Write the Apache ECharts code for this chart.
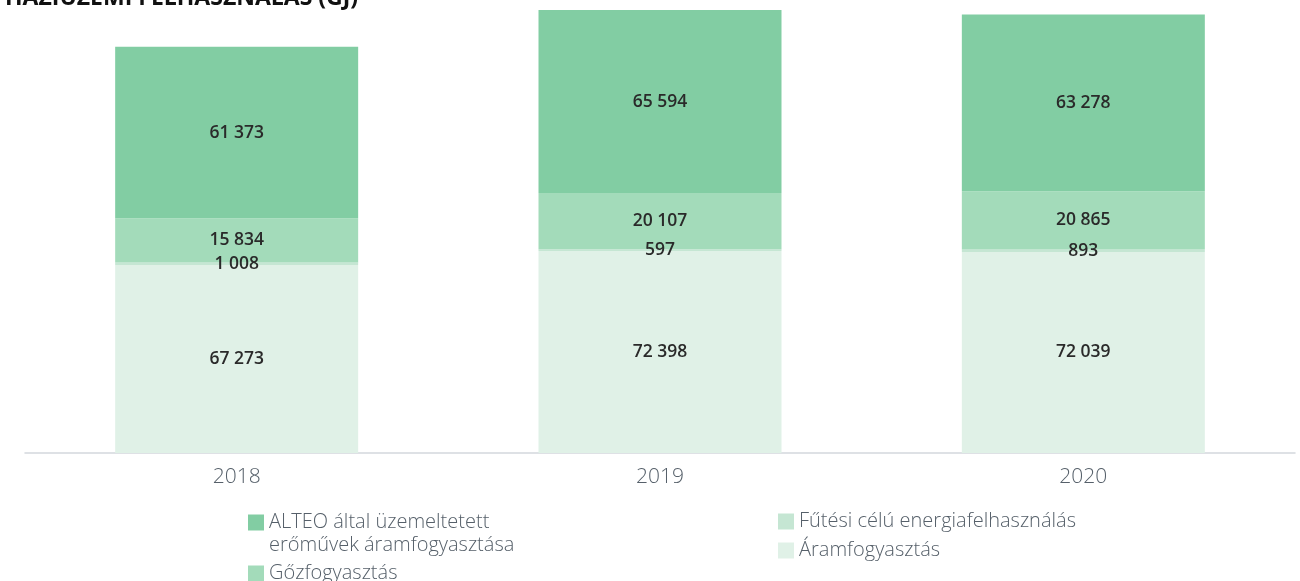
<!DOCTYPE html>
<html>
<head>
<meta charset="utf-8">
<script src="https://cdn.jsdelivr.net/npm/echarts@6/dist/echarts.min.js"></script>
<style>
  html, body { margin: 0; padding: 0; background: #fff; }
  #chart { width: 1300px; height: 581px; }
</style>
</head>
<body>
<div id="chart"></div>
<script>
var years = ["2018", "2019", "2020"];
var aramfogyasztas = [67273, 72398, 72039];
var futesi = [1008, 597, 893];
var gozfogyasztas = [15834, 20107, 20865];
var alteo = [61373, 65594, 63278];

var nameAram = "Áramfogyasztás";
var nameFutesi = "Fűtési célú energiafelhasználás";
var nameGoz = "Gőzfogyasztás";
var nameAlteo = "ALTEO által üzemeltetett erőművek áramfogyasztása";

var fontFamily = "'Open Sans', Lato, sans-serif";

function fmt(p) {
  return String(p.value).replace(/\B(?=(\d{3})+(?!\d))/g, " ");
}

var labelStyle = {
  show: true,
  position: "inside",
  formatter: fmt,
  color: "#2a2a2a",
  fontSize: 17.5,
  fontWeight: 600,
  fontFamily: fontFamily
};

function makeSeries(name, data, color) {
  return {
    name: name,
    type: "bar",
    stack: "total",
    barWidth: 243,
    data: data,
    itemStyle: { color: color },
    label: labelStyle,
    emphasis: { disabled: true }
  };
}

var legendText = {
  color: "#56606a",
  fontSize: 20,
  fontFamily: fontFamily,
  fontWeight: 300,
  lineHeight: 23
};

var myChart = echarts.init(document.getElementById("chart"));
myChart.setOption({
  animation: false,
  title: {
    text: "HÁZIÜZEMI FELHASZNÁLÁS (GJ)",
    left: 0,
    top: -18,
    textStyle: { fontSize: 23, fontWeight: "bold", color: "#111", fontFamily: fontFamily }
  },
  grid: { left: 25, right: 5, top: 10, bottom: 128 },
  xAxis: {
    type: "category",
    data: years,
    axisTick: { show: false },
    axisLine: { lineStyle: { color: "#d3d7dd", width: 1.5 } },
    axisLabel: { color: "#56606a", fontSize: 21, fontFamily: fontFamily, fontWeight: 300, margin: 14 }
  },
  yAxis: {
    type: "value",
    max: "dataMax",
    show: false,
    splitLine: { show: false }
  },
  legend: [
    {
      data: [nameAlteo],
      left: 243,
      top: 483,
      icon: "rect",
      itemWidth: 16,
      itemHeight: 16,
      selectedMode: false,
      // empty first line keeps the icon level with the first text line
      formatter: function () { return " \nALTEO által üzemeltetett\nerőművek áramfogyasztása"; },
      textStyle: legendText
    },
    {
      data: [nameGoz],
      left: 243,
      top: 557,
      icon: "rect",
      itemWidth: 16,
      itemHeight: 16,
      selectedMode: false,
      textStyle: legendText
    },
    {
      data: [nameFutesi, nameAram],
      orient: "vertical",
      left: 773,
      top: 505,
      icon: "rect",
      itemWidth: 16,
      itemHeight: 16,
      itemGap: 6,
      selectedMode: false,
      textStyle: legendText
    }
  ],
  series: [
    makeSeries(nameAram, aramfogyasztas, "#e0f1e7"),
    makeSeries(nameFutesi, futesi, "#c5e6d3"),
    makeSeries(nameGoz, gozfogyasztas, "#a3dbba"),
    makeSeries(nameAlteo, alteo, "#82cda3")
  ]
});
</script>
</body>
</html>
